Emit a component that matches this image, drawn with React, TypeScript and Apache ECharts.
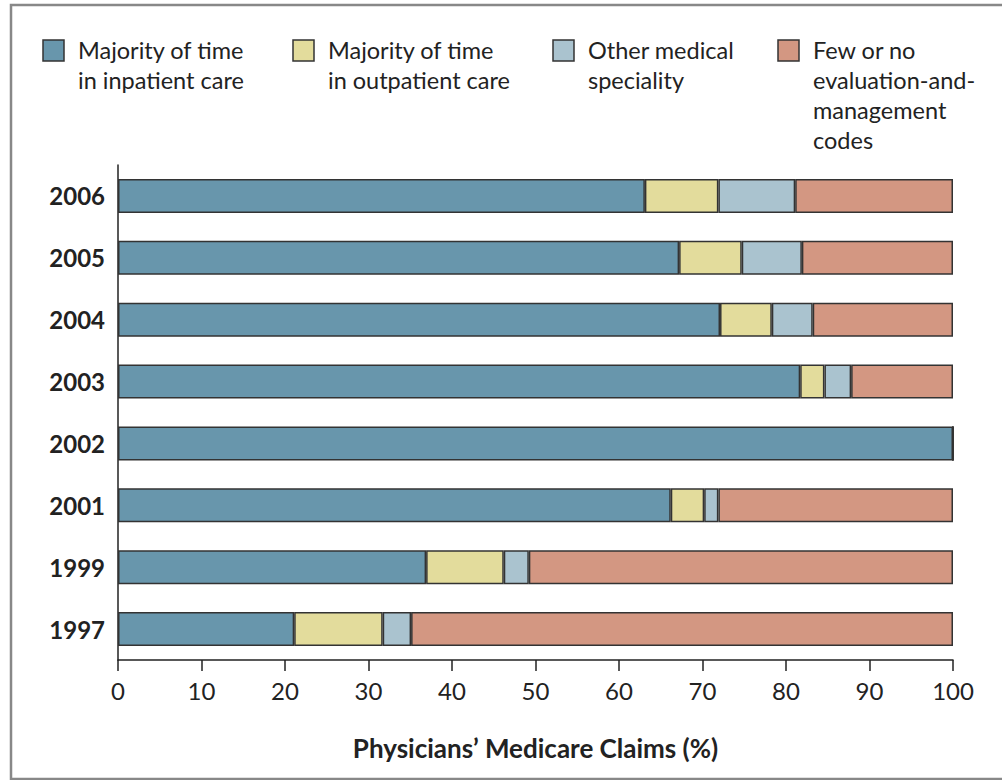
import React, { useEffect, useRef } from "react";
import * as echarts from "echarts";

const years = ["1997", "1999", "2001", "2002", "2003", "2004", "2005", "2006"];
const seriesNames = [
  "Majority of time\nin inpatient care",
  "Majority of time\nin outpatient care",
  "Other medical\nspeciality",
  "Few or no\nevaluation-and-\nmanagement\ncodes",
];
const inpatient = [21.1, 36.9, 66.2, 100, 81.7, 72.1, 67.2, 63.1];
const outpatient = [10.6, 9.3, 4.0, 0, 2.9, 6.2, 7.5, 8.8];
const otherSpecialty = [3.4, 3.0, 1.7, 0, 3.2, 4.9, 7.2, 9.2];
const fewCodes = [64.9, 50.8, 28.1, 0, 12.2, 16.8, 18.1, 18.9];
const xTicks = [0, 10, 20, 30, 40, 50, 60, 70, 80, 90, 100];
const colors = ["#6896ac", "#e3dc9c", "#aac3cf", "#d39782"];
const legendX = [43, 293, 553, 778];

const FONT = "Lato, 'Open Sans', sans-serif";

export default function App() {
  const ref = useRef<HTMLDivElement>(null);
  useEffect(() => {
    if (!ref.current) return;
    const chart = echarts.init(ref.current, null, { renderer: "svg" });
    const values = [inpatient, outpatient, otherSpecialty, fewCodes];
    const legendGraphics: any[] = [];
    seriesNames.forEach((name, i) => {
      legendGraphics.push({
        type: "rect",
        shape: { x: legendX[i], y: 40, width: 21, height: 21 },
        style: { fill: colors[i], stroke: "#333", lineWidth: 1.5 },
      });
      legendGraphics.push({
        type: "text",
        x: legendX[i] + 35,
        y: 35,
        style: {
          text: name,
          font: `23.5px ${FONT}`,
          fill: "#222",
          lineHeight: 30,
          verticalAlign: "top",
          align: "left",
        },
      });
    });
    chart.setOption({
      animation: false,
      backgroundColor: "#fff",
      grid: { left: 118, top: 165, width: 835, height: 495, containLabel: false },
      xAxis: {
        type: "value",
        min: 0,
        max: 100,
        interval: 10,
        name: "Physicians\u2019 Medicare Claims (%)",
        nameLocation: "middle",
        nameGap: 75,
        nameTextStyle: { fontFamily: FONT, fontSize: 26, fontWeight: "bold", color: "#222" },
        axisLine: { show: true, lineStyle: { color: "#222", width: 1.5 } },
        axisTick: { show: true, length: 11, lineStyle: { color: "#222", width: 1.5 } },
        axisLabel: {
          margin: 18,
          fontFamily: FONT,
          fontSize: 24,
          color: "#222",
          formatter: (v: number) => (xTicks.includes(v) ? String(v) : ""),
        },
        splitLine: { show: false },
      },
      yAxis: {
        type: "category",
        data: years,
        axisLine: { show: true, lineStyle: { color: "#222", width: 1.5 } },
        axisTick: { show: false },
        axisLabel: {
          margin: 13,
          fontFamily: FONT,
          fontSize: 24,
          fontWeight: "bold",
          color: "#222",
        },
      },
      series: seriesNames.map((name, i) => ({
        name,
        type: "bar",
        stack: "total",
        barWidth: 34,
        data: values[i],
        itemStyle: { color: colors[i], borderColor: "#333", borderWidth: 1.5 },
      })),
      graphic: [
        {
          type: "rect",
          shape: { x: 11, y: 5, width: 1010, height: 774 },
          style: { fill: "none", stroke: "#888", lineWidth: 2.5 },
          silent: true,
        },
        ...legendGraphics,
      ],
    });
    return () => chart.dispose();
  }, []);
  return (
    <div
      ref={ref}
      style={{ position: "fixed", left: 0, top: 0, width: 1002, height: 780 }}
    />
  );
}
